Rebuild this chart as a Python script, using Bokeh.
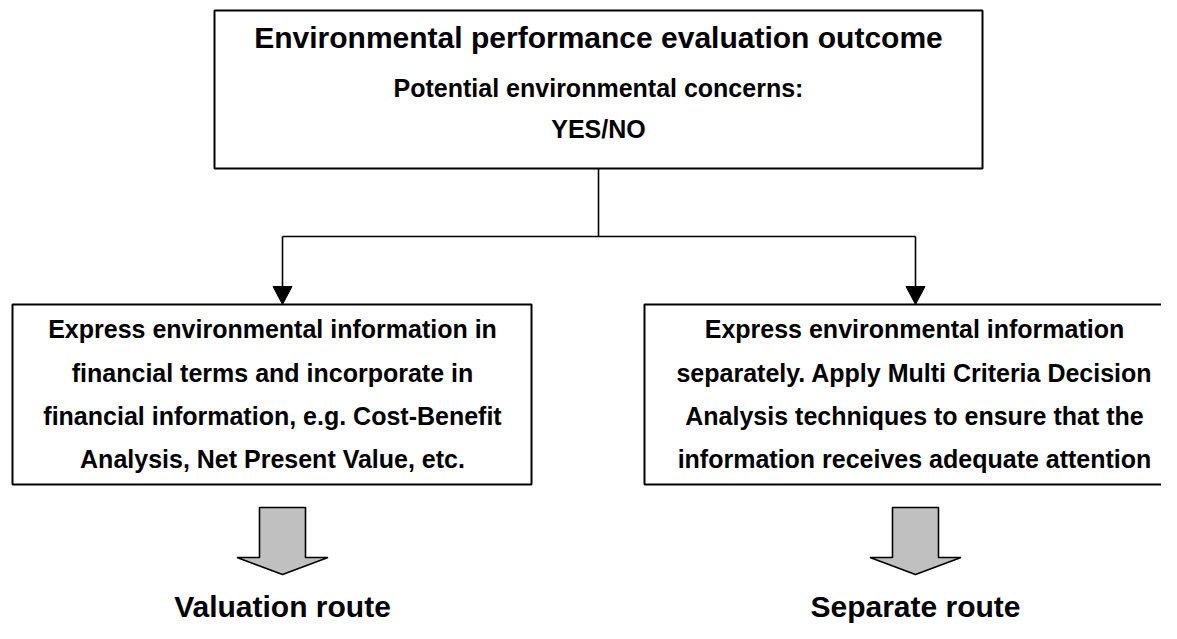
from bokeh.plotting import figure
from bokeh.models import Range1d
from bokeh.core.properties import value
from bokeh.embed import file_html
from bokeh.resources import INLINE

# ---- content ----
top_lines = ["Environmental performance evaluation outcome",
             "Potential environmental concerns:",
             "YES/NO"]
left_lines = ["Express environmental information in",
              "financial terms and incorporate in",
              "financial information, e.g. Cost-Benefit",
              "Analysis, Net Present Value, etc."]
right_lines = ["Express environmental information",
               "separately. Apply Multi Criteria Decision",
               "Analysis techniques to ensure that the",
               "information receives adequate attention"]
routes = ["Valuation route", "Separate route"]

# ---- layout (picture pixel coordinates) ----
W, H = 1161, 623
FONT = value("Liberation Sans")

p = figure(width=W, height=H, x_range=Range1d(0, W), y_range=Range1d(H, 0),
           output_backend="svg", toolbar_location=None, min_border=0,
           x_axis_location=None, y_axis_location=None)
p.grid.visible = False
p.outline_line_color = None
p.background_fill_color = "white"
p.border_fill_color = "white"

top_box = dict(l=214, r=982, t=10, b=168)
left_box = dict(l=12, r=531, t=304, b=484)
right_box = dict(l=644, r=1190, t=304, b=484)
branch_y = 236
left_x, right_x = 282, 915
mid_x = 598

for bx in (top_box, left_box, right_box):
    p.quad(left=bx["l"], right=bx["r"], top=bx["t"], bottom=bx["b"],
           fill_color="white", line_color="black", line_width=2)

# connectors
ah_w, ah_h = 9.5, 18
p.segment(x0=[mid_x, left_x, left_x, right_x], y0=[top_box["b"], branch_y, branch_y, branch_y],
          x1=[mid_x, right_x, left_x, right_x],
          y1=[branch_y, branch_y, left_box["t"] - ah_h + 1, right_box["t"] - ah_h + 1],
          line_color="black", line_width=1.6)
p.patches(xs=[[left_x - ah_w, left_x + ah_w, left_x], [right_x - ah_w, right_x + ah_w, right_x]],
          ys=[[left_box["t"] - ah_h, left_box["t"] - ah_h, left_box["t"]],
              [right_box["t"] - ah_h, right_box["t"] - ah_h, right_box["t"]]],
          fill_color="black", line_color="black", line_width=1)

# big grey arrows
def block_arrow(cx, top=507, neck=557, tip=574, sw=23, hw=45.5):
    xs = [cx - sw, cx + sw, cx + sw, cx + hw, cx, cx - hw, cx - sw]
    ys = [top, top, neck, neck, tip, neck, neck]
    return xs, ys

axs, ays = zip(*[block_arrow(left_x), block_arrow(right_x)])
p.patches(xs=list(axs), ys=list(ays), fill_color="#c0c0c0", line_color="black", line_width=1.6)

# texts
top_y = [37, 87, 128]
top_size = ["30px", "25px", "25px"]
for t, y, s in zip(top_lines, top_y, top_size):
    p.text(x=[mid_x], y=[y], text=[t], text_font=FONT, text_font_style="bold",
           text_font_size=s, text_align="center", text_baseline="middle", text_color="black")

body_y = [328, 372, 415, 458]
p.text(x=[272] * 4, y=body_y, text=left_lines, text_font=FONT, text_font_style="bold",
       text_font_size="25px", text_align="center", text_baseline="middle", text_color="black")
p.text(x=[914] * 4, y=body_y, text=right_lines, text_font=FONT, text_font_style="bold",
       text_font_size="25px", text_align="center", text_baseline="middle", text_color="black")

p.text(x=[left_x, right_x], y=[H - 1, H - 1], text=routes, text_font=FONT, text_font_style="bold",
       text_font_size="30px", text_align="center", text_baseline="bottom", text_color="black")

open("out.html", "w").write(file_html(p, INLINE))
